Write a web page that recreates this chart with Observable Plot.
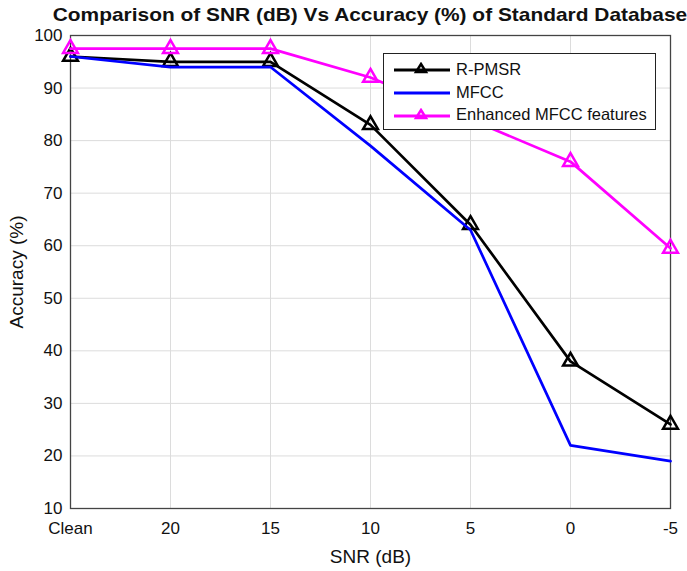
<!DOCTYPE html>
<html><head><meta charset="utf-8">
<script src="https://cdn.jsdelivr.net/npm/d3@7"></script>
<script src="https://cdn.jsdelivr.net/npm/@observablehq/plot@0.6"></script>
<style>
body{margin:0;background:#fff;font-family:"Liberation Sans",Arial,sans-serif;}
#wrap{position:relative;width:687px;height:571px;}
#title{position:absolute;left:0;width:740px;top:4px;text-align:center;font-weight:bold;font-size:19px;color:#111;transform:scaleX(1.1);transform-origin:370px 0;white-space:nowrap;}
#legend{position:absolute;left:383px;top:53px;width:273px;height:77px;border:1.5px solid #222;background:#fff;box-sizing:border-box;font-size:16.5px;color:#111;}
.row{display:flex;align-items:center;height:22.7px;margin-left:9px;}
.row:first-child{margin-top:4px;}
.row span{margin-left:5px;}
</style></head>
<body><div id="wrap"><div id="chart"></div><div id="title">Comparison of SNR (dB) Vs Accuracy (%) of Standard Database</div><div id="legend"></div></div>
<script>
const snrLabels = ["Clean","20","15","10","5","0","-5"];
const rpmsr = [96, 95, 95, 83, 64, 38, 26];
const mfcc = [96, 94, 94, 79, 63, 22, 19];
const enhanced = [97.5, 97.5, 97.5, 92, 84, 76, 59.5];
const yTicks = [10,20,30,40,50,60,70,80,90,100];
const seriesNames = ["R-PMSR","MFCC","Enhanced MFCC features"];
const seriesColors = ["#000000","#0000ff","#ff00ff"];
const seriesMarkers = [true,false,true];

const rows = [];
[rpmsr, mfcc, enhanced].forEach((vals, si) => {
  vals.forEach((v, i) => rows.push({snr: snrLabels[i], acc: v, series: seriesNames[si]}));
});

const marks = [
  Plot.gridX(snrLabels, {stroke:"#dcdcdc", strokeOpacity:1}),
  Plot.gridY(yTicks, {stroke:"#dcdcdc", strokeOpacity:1}),
  Plot.frame({stroke:"#444", strokeWidth:1.3}),
  Plot.axisX({ticks: snrLabels, tickSize:0, tickPadding:13, fontSize:17, label:"SNR (dB)", labelAnchor:"center", labelArrow:"none", labelOffset:54}),
  Plot.axisY({ticks: yTicks, tickSize:0, tickPadding:8, fontSize:17, label:"Accuracy (%)", labelAnchor:"center", labelArrow:"none", labelOffset:61})
];
seriesNames.forEach((name, si) => {
  const d = rows.filter(r => r.series === name);
  marks.push(Plot.line(d, {x:"snr", y:"acc", stroke: seriesColors[si], strokeWidth: 2.7}));
  if (seriesMarkers[si]) marks.push(Plot.dot(d, {x:"snr", y:"acc", symbol:"triangle", r:5.5, stroke: seriesColors[si], strokeWidth:2.5, fill:"none"}));
});

const chart = Plot.plot({
  width: 687, height: 571,
  marginLeft: 70, marginRight: 17, marginTop: 35, marginBottom: 63,
  style: {fontFamily:'"Liberation Sans", Arial, sans-serif', color:"#111", background:"#fff"},
  x: {type:"point", domain: snrLabels, padding: 0},
  y: {domain: [10, 100]},
  marks
});
chart.querySelectorAll('[aria-label="x-axis label"] text, [aria-label="y-axis label"] text').forEach(t => t.setAttribute("font-size","19"));
document.getElementById("chart").appendChild(chart);

const lg = document.getElementById("legend");
seriesNames.forEach((name, si) => {
  const row = document.createElement("div");
  row.className = "row";
  const tri = seriesMarkers[si] ? `<path d="M28,2 L33,10 L23,10 Z" fill="none" stroke="${seriesColors[si]}" stroke-width="2.5"/>` : "";
  row.innerHTML = `<svg width="58" height="14"><line x1="1" x2="57" y1="8" y2="8" stroke="${seriesColors[si]}" stroke-width="3"/>${tri}</svg><span>${name}</span>`;
  lg.appendChild(row);
});
</script></body></html>
